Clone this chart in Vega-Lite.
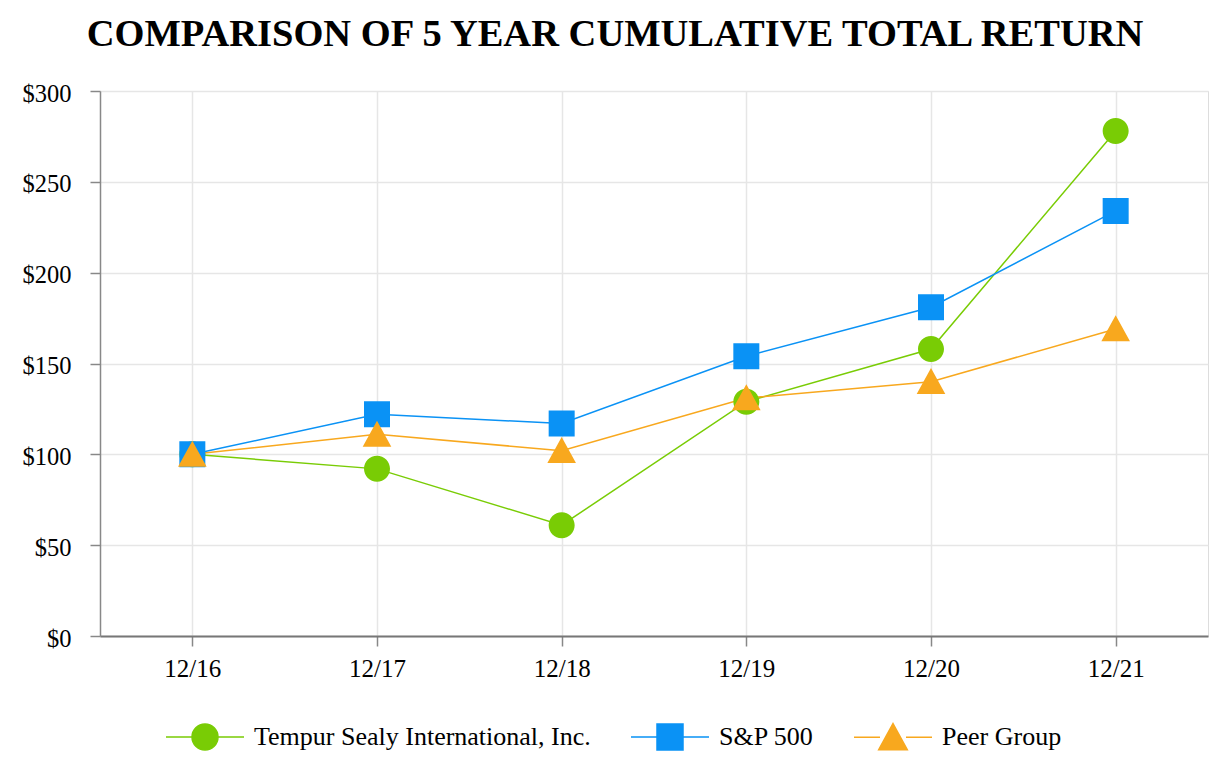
{
  "$schema": "https://vega.github.io/schema/vega-lite/v6.json",
  "width": 1108,
  "height": 545,
  "autosize": {"type": "none"},
  "padding": {"left": 100, "top": 91, "right": 20, "bottom": 142},
  "background": "white",
  "title": {
    "text": "COMPARISON OF 5 YEAR CUMULATIVE TOTAL RETURN",
    "font": "Liberation Serif",
    "fontSize": 38.5,
    "fontWeight": "bold",
    "color": "black",
    "anchor": "middle",
    "frame": "bounds",
    "offset": 27
  },
  "data": {
    "values": [
      {"date": "12/16", "series": "Tempur Sealy International, Inc.", "value": 100},
      {"date": "12/17", "series": "Tempur Sealy International, Inc.", "value": 92},
      {"date": "12/18", "series": "Tempur Sealy International, Inc.", "value": 61},
      {"date": "12/19", "series": "Tempur Sealy International, Inc.", "value": 129},
      {"date": "12/20", "series": "Tempur Sealy International, Inc.", "value": 158},
      {"date": "12/21", "series": "Tempur Sealy International, Inc.", "value": 278},
      {"date": "12/16", "series": "S&P 500", "value": 100},
      {"date": "12/17", "series": "S&P 500", "value": 122},
      {"date": "12/18", "series": "S&P 500", "value": 117},
      {"date": "12/19", "series": "S&P 500", "value": 154},
      {"date": "12/20", "series": "S&P 500", "value": 181},
      {"date": "12/21", "series": "S&P 500", "value": 234},
      {"date": "12/16", "series": "Peer Group", "value": 100},
      {"date": "12/17", "series": "Peer Group", "value": 111},
      {"date": "12/18", "series": "Peer Group", "value": 102},
      {"date": "12/19", "series": "Peer Group", "value": 131},
      {"date": "12/20", "series": "Peer Group", "value": 140},
      {"date": "12/21", "series": "Peer Group", "value": 169}
    ]
  },
  "encoding": {
    "x": {
      "field": "date",
      "type": "ordinal",
      "scale": {"type": "point", "padding": 0.5},
      "axis": {
        "title": null,
        "labelAngle": 0,
        "grid": true,
        "gridColor": "#e6e6e6",
        "gridWidth": 1.5,
        "domainColor": "#777777",
        "domainWidth": 2,
        "tickColor": "#888888",
        "tickWidth": 1.5,
        "tickSize": 10,
        "labelPadding": 10,
        "labelFont": "Liberation Serif",
        "labelFontSize": 25,
        "labelColor": "black"
      }
    },
    "y": {
      "field": "value",
      "type": "quantitative",
      "scale": {"domain": [0, 300], "nice": false, "zero": true},
      "axis": {
        "title": null,
        "values": [0, 50, 100, 150, 200, 250, 300],
        "format": "$.0f",
        "grid": true,
        "gridColor": "#e6e6e6",
        "gridWidth": 1.5,
        "domainColor": "#888888",
        "domainWidth": 1.5,
        "tickColor": "#888888",
        "tickWidth": 1.5,
        "tickSize": 10,
        "labelPadding": 19,
        "labelOffset": 3,
        "labelFont": "Liberation Serif",
        "labelFontSize": 24.5,
        "labelColor": "black"
      }
    }
  },
  "layer": [
    {
      "mark": {"type": "line", "strokeWidth": 1.5},
      "encoding": {
        "stroke": {
          "field": "series",
          "type": "nominal",
          "scale": {
            "domain": ["Tempur Sealy International, Inc.", "S&P 500", "Peer Group"],
            "range": ["#79cc05", "#0a92f5", "#f8a81e"]
          }
        }
      }
    },
    {
      "mark": {"type": "point", "filled": true, "size": 676, "opacity": 1},
      "encoding": {
        "color": {
          "field": "series",
          "type": "nominal",
          "scale": {
            "domain": ["Tempur Sealy International, Inc.", "S&P 500", "Peer Group"],
            "range": ["#79cc05", "#0a92f5", "#f8a81e"]
          },
          "legend": {
            "orient": "none",
            "legendX": 91,
            "legendY": 632,
            "direction": "horizontal",
            "title": null,
            "labelFont": "Liberation Serif",
            "labelFontSize": 26,
            "labelColor": "black",
            "labelLimit": 600,
            "labelOffset": 35,
            "columnPadding": 37,
            "symbolSize": 676,
            "symbolStrokeWidth": 1.5
          }
        },
        "shape": {
          "field": "series",
          "type": "nominal",
          "scale": {
            "domain": ["Tempur Sealy International, Inc.", "S&P 500", "Peer Group"],
            "range": [
              "M-3,0H-1M1,0H3M-1,0A1,1 0 1,0 1,0A1,1 0 1,0 -1,0Z",
              "M-3,0H-1M1,0H3M-1,-1H1V1H-1Z",
              "M-3,0H-1M1,0H3M0,-1.05L1.1,0.95H-1.1Z"
            ]
          }
        }
      }
    }
  ]
}
